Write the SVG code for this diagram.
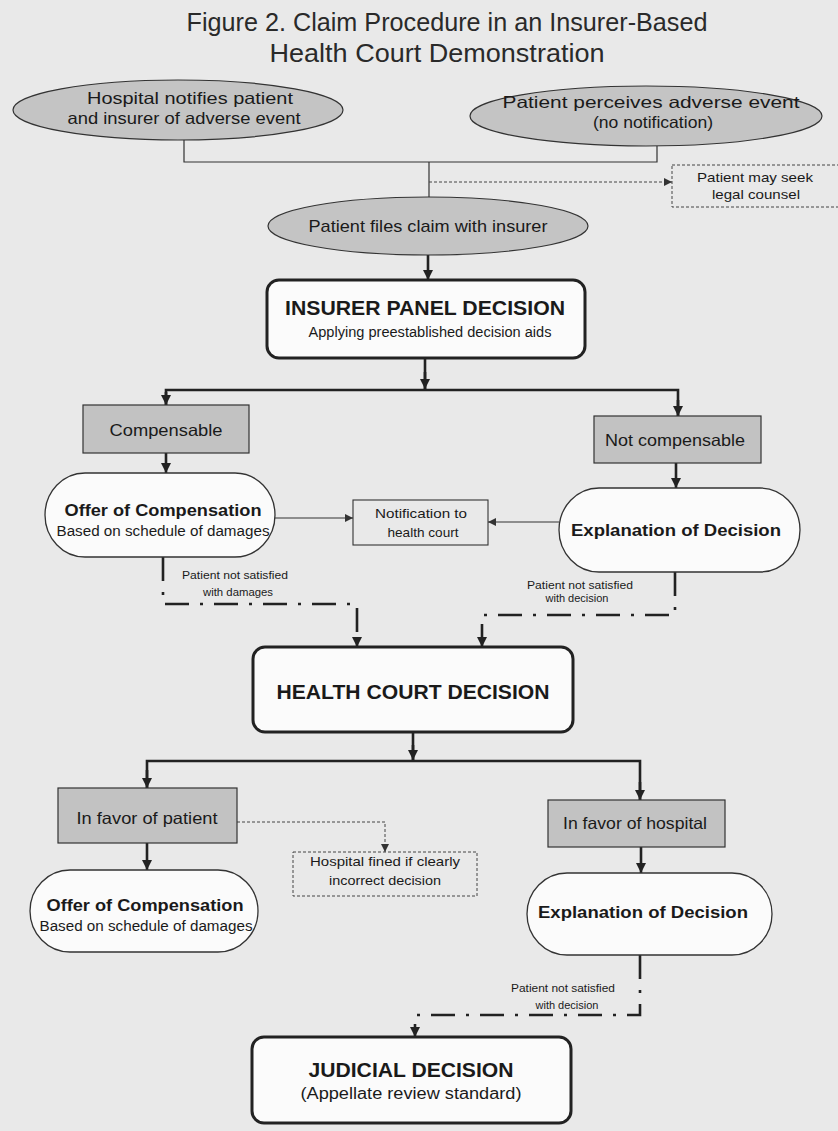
<svg xmlns="http://www.w3.org/2000/svg" width="838" height="1131" viewBox="0 0 838 1131">
<style>
  text { font-family: "Liberation Sans", Arial, sans-serif; fill: #1a1a1a; text-anchor: middle; }
  .title { font-size: 25px; fill: #2a2a2a; }
  .ell { fill: #c4c4c4; stroke: #333; stroke-width: 1.2; }
  .gbox { fill: #c2c2c2; stroke: #333; stroke-width: 1.2; }
  .wbox { fill: #fbfbfb; stroke: #222; stroke-width: 3; }
  .wround { fill: #fbfbfb; stroke: #333; stroke-width: 1.3; }
  .note { fill: none; stroke: #444; stroke-width: 1; stroke-dasharray: 3 2; }
  .nbox { fill: none; stroke: #333; stroke-width: 1.1; }
  .thin { fill: none; stroke: #333; stroke-width: 1.2; }
  .thick { fill: none; stroke: #222; stroke-width: 2.6; }
  .dotted { fill: none; stroke: #444; stroke-width: 1; stroke-dasharray: 3 2; }
  .dashdot { fill: none; stroke: #222; stroke-width: 2.6; stroke-dasharray: 24 11 3 11; }
  .big { font-size: 20px; font-weight: bold; }
  .bold { font-size: 17px; font-weight: bold; }
  .lbl { font-size: 16.5px; }
  .sub { font-size: 14px; }
  .sm { font-size: 13px; }
  .xs { font-size: 10.5px; }
</style>
<defs>
  <marker id="ah" viewBox="0 0 10 10" refX="10" refY="5" markerWidth="10" markerHeight="10" markerUnits="userSpaceOnUse" orient="auto">
    <path d="M0,0 L10,5 L0,10 z" fill="#222"/>
  </marker>
  <marker id="ahs" viewBox="0 0 10 10" refX="10" refY="5" markerWidth="8" markerHeight="8" markerUnits="userSpaceOnUse" orient="auto">
    <path d="M0,0 L10,5 L0,10 z" fill="#333"/>
  </marker>
</defs>
<rect x="0" y="0" width="838" height="1131" fill="#e9e9e9"/>

<g id="title">
  <text class="title" x="447" y="31" textLength="521" lengthAdjust="spacingAndGlyphs">Figure 2. Claim Procedure in an Insurer-Based</text>
  <text class="title" x="437" y="62" textLength="335" lengthAdjust="spacingAndGlyphs">Health Court Demonstration</text>
</g>

<g id="connectors">
  <path class="thin" d="M184,140 V162 H657 V146"/>
  <path class="thin" d="M429,162 V197"/>
  <path class="dotted" d="M429,182 H672" marker-end="url(#ahs)"/>
  <path class="thick" d="M428,255 V280" marker-end="url(#ah)"/>
  <path class="thick" d="M425,358 V390"/>
  <path class="thick" d="M425,372 V389" marker-end="url(#ah)"/>
  <path class="thick" d="M166,405 V390 H678 V416"/>
  <path class="thick" d="M166,392 V405" marker-end="url(#ah)"/>
  <path class="thick" d="M678,400 V416" marker-end="url(#ah)"/>
  <path class="thick" d="M166,453 V473" marker-end="url(#ah)"/>
  <path class="thick" d="M676,463 V488" marker-end="url(#ah)"/>
  <path class="thin" d="M275,518 H353" marker-end="url(#ahs)"/>
  <path class="thin" d="M559,522 H488" marker-end="url(#ahs)"/>
  <path class="dashdot" d="M163,557 V604 H357 V647" marker-end="url(#ah)"/>
  <path class="dashdot" d="M675,572 V615 H482 V647" marker-end="url(#ah)"/>
  <path class="thick" d="M413,732 V761"/>
  <path class="thick" d="M413,745 V760" marker-end="url(#ah)"/>
  <path class="thick" d="M147,788 V761 H640 V800"/>
  <path class="thick" d="M147,770 V788" marker-end="url(#ah)"/>
  <path class="thick" d="M640,782 V800" marker-end="url(#ah)"/>
  <path class="dotted" d="M237,822 H385 V852" marker-end="url(#ahs)"/>
  <path class="thick" d="M147,843 V870" marker-end="url(#ah)"/>
  <path class="thick" d="M641,847 V873" marker-end="url(#ah)"/>
  <path class="dashdot" d="M640,955 V1015 H415 V1037" marker-end="url(#ah)"/>
</g>

<g id="hospital-notifies">
  <ellipse class="ell" cx="178" cy="110" rx="165" ry="30"/>
  <text class="lbl" x="190" y="104" textLength="206" lengthAdjust="spacingAndGlyphs">Hospital notifies patient</text>
  <text class="lbl" x="184" y="124" textLength="233" lengthAdjust="spacingAndGlyphs">and insurer of adverse event</text>
</g>

<g id="patient-perceives">
  <ellipse class="ell" cx="646" cy="116" rx="176" ry="30"/>
  <text class="lbl" x="651" y="108" textLength="297" lengthAdjust="spacingAndGlyphs">Patient perceives adverse event</text>
  <text class="lbl" x="653" y="128" textLength="120" lengthAdjust="spacingAndGlyphs">(no notification)</text>
</g>

<g id="legal-counsel">
  <rect class="note" x="672" y="165" width="175" height="42"/>
  <text class="sm" x="755" y="182" textLength="116" lengthAdjust="spacingAndGlyphs">Patient may seek</text>
  <text class="sm" x="756" y="199" textLength="88" lengthAdjust="spacingAndGlyphs">legal counsel</text>
</g>

<g id="files-claim">
  <ellipse class="ell" cx="428" cy="226" rx="160" ry="29"/>
  <text x="428" y="232" style="font-size:17px" textLength="239" lengthAdjust="spacingAndGlyphs">Patient files claim with insurer</text>
</g>

<g id="insurer-panel">
  <rect class="wbox" x="267" y="280" width="318" height="78" rx="12"/>
  <text class="big" x="425" y="315" textLength="280" lengthAdjust="spacingAndGlyphs">INSURER PANEL DECISION</text>
  <text class="sub" x="430" y="337" textLength="243" lengthAdjust="spacingAndGlyphs">Applying preestablished decision aids</text>
</g>

<g id="compensable">
  <rect class="gbox" x="83" y="405" width="166" height="48"/>
  <text class="lbl" x="166" y="436" textLength="113" lengthAdjust="spacingAndGlyphs">Compensable</text>
</g>

<g id="not-compensable">
  <rect class="gbox" x="594" y="416" width="167" height="47"/>
  <text class="lbl" x="675" y="446" textLength="140" lengthAdjust="spacingAndGlyphs">Not compensable</text>
</g>

<g id="offer-1">
  <rect class="wround" x="45" y="473" width="230" height="84" rx="40" ry="42"/>
  <text class="bold" x="163" y="516" textLength="197" lengthAdjust="spacingAndGlyphs">Offer of Compensation</text>
  <text class="sub" x="163" y="536" textLength="213" lengthAdjust="spacingAndGlyphs">Based on schedule of damages</text>
</g>

<g id="notification">
  <rect class="nbox" x="353" y="500" width="135" height="45"/>
  <text class="sm" x="421" y="518" textLength="92" lengthAdjust="spacingAndGlyphs">Notification to</text>
  <text class="sm" x="423" y="537" textLength="71" lengthAdjust="spacingAndGlyphs">health court</text>
</g>

<g id="explanation-1">
  <rect class="wround" x="559" y="488" width="241" height="84" rx="40" ry="42"/>
  <text class="bold" x="676" y="536" textLength="210" lengthAdjust="spacingAndGlyphs">Explanation of Decision</text>
</g>

<g id="labels-1">
  <text class="xs" x="235" y="579" textLength="106" lengthAdjust="spacingAndGlyphs">Patient not satisfied</text>
  <text class="xs" x="238" y="596" textLength="70" lengthAdjust="spacingAndGlyphs">with damages</text>
  <text class="xs" x="580" y="589" textLength="106" lengthAdjust="spacingAndGlyphs">Patient not satisfied</text>
  <text class="xs" x="577" y="602" textLength="63" lengthAdjust="spacingAndGlyphs">with decision</text>
</g>

<g id="health-court">
  <rect class="wbox" x="253" y="647" width="320" height="85" rx="12"/>
  <text class="big" x="413" y="699" textLength="273" lengthAdjust="spacingAndGlyphs">HEALTH COURT DECISION</text>
</g>

<g id="favor-patient">
  <rect class="gbox" x="58" y="788" width="179" height="55"/>
  <text class="lbl" x="147" y="824" textLength="141" lengthAdjust="spacingAndGlyphs">In favor of patient</text>
</g>

<g id="favor-hospital">
  <rect class="gbox" x="548" y="800" width="177" height="47"/>
  <text class="lbl" x="635" y="829" textLength="144" lengthAdjust="spacingAndGlyphs">In favor of hospital</text>
</g>

<g id="hospital-fined">
  <rect class="note" x="293" y="852" width="184" height="44"/>
  <text class="sm" x="385" y="866" textLength="150" lengthAdjust="spacingAndGlyphs">Hospital fined if clearly</text>
  <text class="sm" x="385" y="885" textLength="112" lengthAdjust="spacingAndGlyphs">incorrect decision</text>
</g>

<g id="offer-2">
  <rect class="wround" x="30" y="870" width="228" height="82" rx="40" ry="41"/>
  <text class="bold" x="145" y="911" textLength="197" lengthAdjust="spacingAndGlyphs">Offer of Compensation</text>
  <text class="sub" x="146" y="931" textLength="213" lengthAdjust="spacingAndGlyphs">Based on schedule of damages</text>
</g>

<g id="explanation-2">
  <rect class="wround" x="527" y="873" width="245" height="82" rx="40" ry="41"/>
  <text class="bold" x="643" y="918" textLength="210" lengthAdjust="spacingAndGlyphs">Explanation of Decision</text>
</g>

<g id="labels-2">
  <text class="xs" x="563" y="992" textLength="104" lengthAdjust="spacingAndGlyphs">Patient not satisfied</text>
  <text class="xs" x="567" y="1009" textLength="63" lengthAdjust="spacingAndGlyphs">with decision</text>
</g>

<g id="judicial">
  <rect class="wbox" x="252" y="1037" width="319" height="86" rx="12"/>
  <text class="big" x="411" y="1077" textLength="205" lengthAdjust="spacingAndGlyphs">JUDICIAL DECISION</text>
  <text style="font-size:16px" x="411" y="1099" textLength="221" lengthAdjust="spacingAndGlyphs">(Appellate review standard)</text>
</g>
</svg>
